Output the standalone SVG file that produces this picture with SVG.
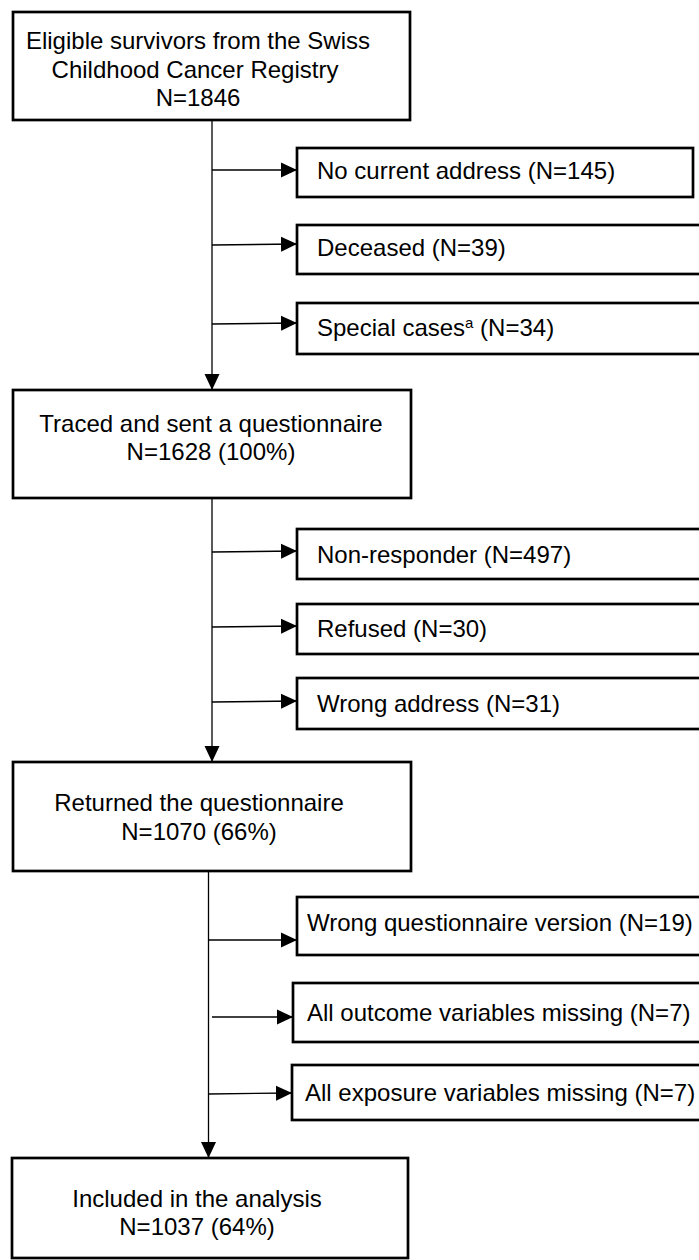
<svg xmlns="http://www.w3.org/2000/svg" width="699" height="1260" viewBox="0 0 699 1260">
<defs>
<marker id="ah" markerUnits="userSpaceOnUse" markerWidth="16" markerHeight="16" viewBox="0 0 16 16" refX="16" refY="8" orient="auto">
<path d="M0,0.5 L16,8 L0,15.5 Z" fill="#000"/>
</marker>
<style>
.box{fill:#fff;stroke:#000;stroke-width:2.7}
.t{font-family:"Liberation Sans",Arial,sans-serif;font-size:24px;fill:#000}
.m{text-anchor:middle}
.c{fill:none;stroke:#000;stroke-width:1.3}
</style>
</defs>
<g id="connectors">
<line class="c" x1="212" y1="120" x2="212" y2="390" marker-end="url(#ah)"/>
<line class="c" x1="212" y1="170" x2="297" y2="170" marker-end="url(#ah)"/>
<line class="c" x1="212" y1="245" x2="297" y2="244" marker-end="url(#ah)"/>
<line class="c" x1="212" y1="324" x2="297" y2="323" marker-end="url(#ah)"/>
<line class="c" x1="212" y1="498" x2="212" y2="762" marker-end="url(#ah)"/>
<line class="c" x1="212" y1="552" x2="297" y2="551" marker-end="url(#ah)"/>
<line class="c" x1="212" y1="627" x2="297" y2="626" marker-end="url(#ah)"/>
<line class="c" x1="212" y1="702" x2="297" y2="701" marker-end="url(#ah)"/>
<line class="c" x1="208.5" y1="871" x2="208.5" y2="1158" marker-end="url(#ah)"/>
<line class="c" x1="209" y1="940" x2="297" y2="940" marker-end="url(#ah)"/>
<line class="c" x1="212" y1="1017" x2="293" y2="1017" marker-end="url(#ah)"/>
<line class="c" x1="209" y1="1094" x2="292" y2="1093" marker-end="url(#ah)"/>
</g>
<g id="n1">
<rect class="box" x="13" y="12" width="397" height="108"/>
<text class="t m" x="198" y="49">Eligible survivors from the Swiss</text>
<text class="t m" x="195" y="78">Childhood Cancer Registry</text>
<text class="t m" x="198" y="106">N=1846</text>
</g>
<g id="n2">
<rect class="box" x="297" y="148" width="396" height="49"/>
<text class="t" x="317" y="179">No current address (N=145)</text>
</g>
<g id="n3">
<rect class="box" x="297" y="225" width="410" height="49"/>
<text class="t" x="317" y="256">Deceased (N=39)</text>
</g>
<g id="n4">
<rect class="box" x="297" y="303" width="410" height="51"/>
<text class="t" x="317" y="336">Special cases<tspan font-size="15" dy="-8">a</tspan><tspan dy="8"> (N=34)</tspan></text>
</g>
<g id="n5">
<rect class="box" x="13" y="390" width="398" height="108"/>
<text class="t m" x="211" y="432">Traced and sent a questionnaire</text>
<text class="t m" x="211" y="460">N=1628 (100%)</text>
</g>
<g id="n6">
<rect class="box" x="297" y="529" width="410" height="50"/>
<text class="t" x="317" y="563">Non-responder (N=497)</text>
</g>
<g id="n7">
<rect class="box" x="297" y="604" width="410" height="50"/>
<text class="t" x="317" y="637">Refused (N=30)</text>
</g>
<g id="n8">
<rect class="box" x="297" y="678" width="410" height="51"/>
<text class="t" x="317" y="712">Wrong address (N=31)</text>
</g>
<g id="n9">
<rect class="box" x="13" y="762" width="398" height="109"/>
<text class="t m" x="199" y="811">Returned the questionnaire</text>
<text class="t m" x="199" y="840">N=1070 (66%)</text>
</g>
<g id="n10">
<rect class="box" x="297" y="897" width="410" height="58"/>
<text class="t" x="307" y="931">Wrong questionnaire version (N=19)</text>
</g>
<g id="n11">
<rect class="box" x="293" y="983" width="414" height="59"/>
<text class="t" x="307" y="1021">All outcome variables missing (N=7)</text>
</g>
<g id="n12">
<rect class="box" x="292" y="1065" width="415" height="55"/>
<text class="t" x="305" y="1101">All exposure variables missing (N=7)</text>
</g>
<g id="n13">
<rect class="box" x="12" y="1158" width="396" height="100"/>
<text class="t m" x="197" y="1207">Included in the analysis</text>
<text class="t m" x="197" y="1235">N=1037 (64%)</text>
</g>
</svg>
